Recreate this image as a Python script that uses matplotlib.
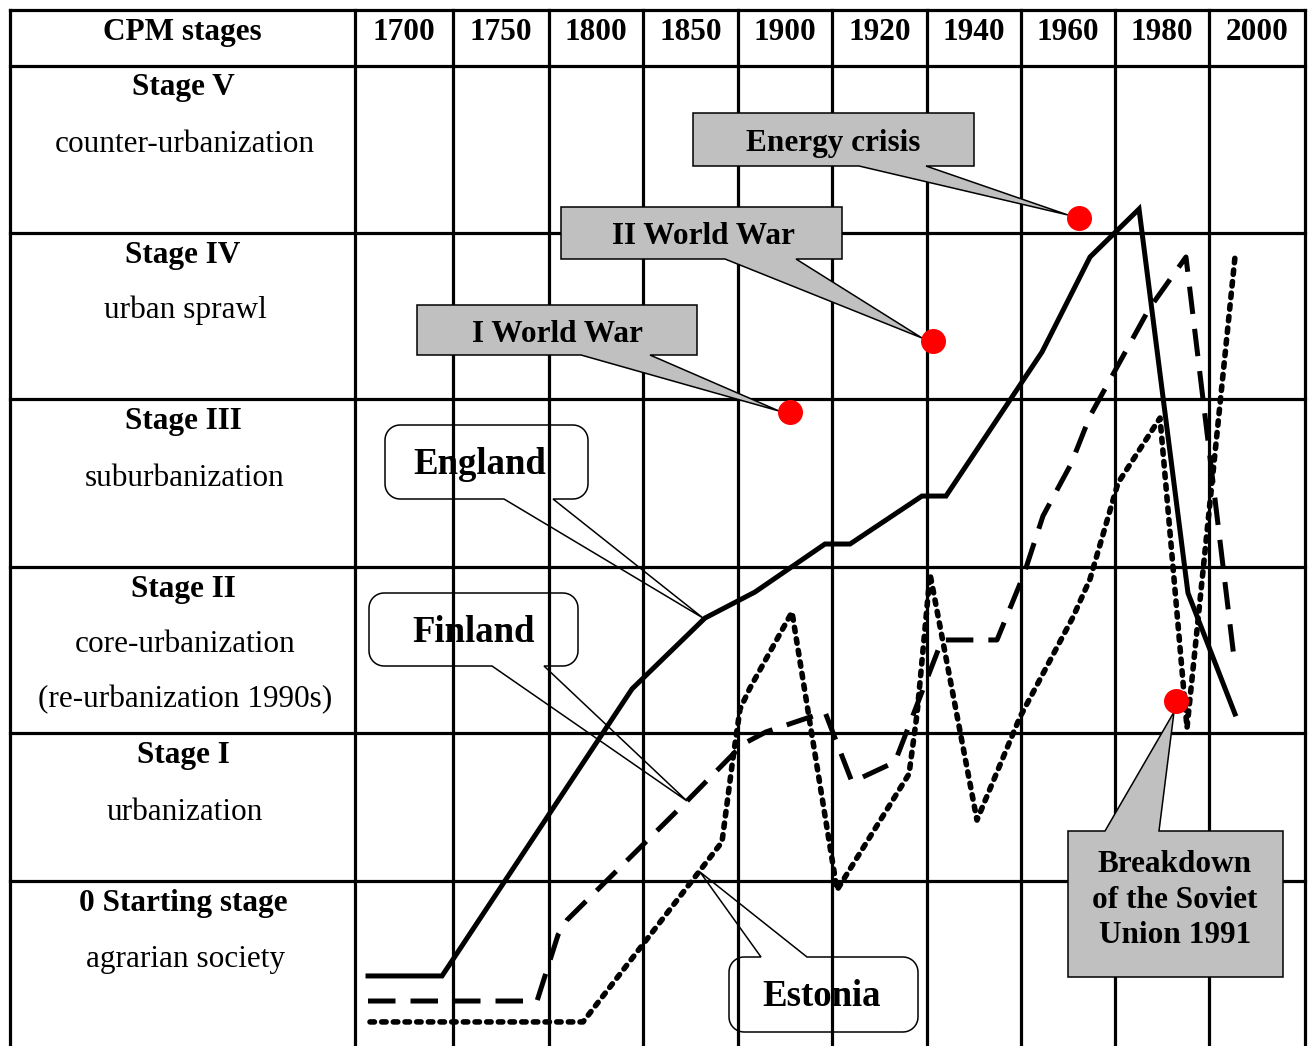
import numpy as np
import matplotlib.pyplot as plt
from matplotlib.patches import Polygon

plt.rcParams['font.family'] = ['Liberation Serif', 'DejaVu Serif']

# column / row labels
years = ['1700', '1750', '1800', '1850', '1900', '1920', '1940', '1960', '1980', '2000']
stage_titles = ['Stage V', 'Stage IV', 'Stage III', 'Stage II', 'Stage I', '0 Starting stage']
stage_notes = [['counter-urbanization'], ['urban sprawl'], ['suburbanization'],
               ['core-urbanization', '(re-urbanization 1990s)'], ['urbanization'],
               ['agrarian society']]

# series: x in year-column units (0 = left edge of 1700), y in stage units
england_x = [0.137, 0.916, 2.916, 3.684, 4.211, 4.947, 5.211, 5.968, 6.221, 7.232, 7.737, 8.253, 8.768, 9.263]
england_y = [0.422, 0.422, 2.151, 2.578, 2.735, 3.024, 3.024, 3.313, 3.313, 4.181, 4.753, 5.042, 2.729, 2.0]

finland_x = [0.137, 1.916, 2.137, 2.232, 3.495, 4.084, 4.326, 4.947, 5.232, 5.684, 6.179, 6.758, 7.042,
             7.242, 7.537, 7.737, 8.358, 8.747, 9.263]
finland_y = [0.271, 0.271, 0.669, 0.759, 1.476, 1.819, 1.892, 2.012, 1.590, 1.711, 2.446, 2.446, 2.843,
             3.193, 3.506, 3.795, 4.440, 4.753, 2.289]

estonia_x = [0.158, 2.4, 3.863, 3.979, 4.053, 4.158, 4.6, 5.074, 5.832, 5.916, 5.989, 6.053, 6.547,
             7.0, 7.558, 7.737, 8.032, 8.474, 8.758, 9.263]
estonia_y = [0.145, 0.145, 1.229, 1.735, 2.030, 2.157, 2.614, 0.940, 1.639, 2.0, 2.446, 2.843, 1.361,
             1.982, 2.584, 2.813, 3.392, 3.783, 1.916, 4.753]

# events (red dots)
event_labels = ['I World War', 'II World War', 'Energy crisis', 'Breakdown\nof the Soviet\nUnion 1991']
event_x = [4.579, 6.084, 7.621, 8.642]
event_y = [3.819, 4.247, 4.988, 2.078]

# layout (pixels of the picture)
X0, XW = 355, 95.0
Y0, YH = 1046, 166.0
DY = 3  # text sits a little lower than matplotlib centres it


def gx(px):
    return (px - X0) / XW


def gy(py):
    return (Y0 - py) / YH


col_edges = [10, 355, 453, 549, 643, 738, 832, 927, 1021, 1115, 1209, 1305]
row_edges = [10, 66, 233, 399, 567, 733, 881]
title_rows = [85, 253, 419, 587, 753, 901]
note_rows = [[141], [307], [475], [641, 697], [809], [957]]


def callout(x0, y0, x1, y1, b0, b1, tip, side, r):
    def arc(cx, cy, a0, a1):
        if r == 0:
            return [(cx, cy)]
        t = np.radians(np.linspace(a0, a1, 10))
        return list(zip(cx + r * np.cos(t), cy + r * np.sin(t)))
    pts = arc(x0 + r, y0 + r, 180, 270)
    if side == 'top':
        pts += [(b0, y0), tip, (b1, y0)]
    pts += arc(x1 - r, y0 + r, 270, 360)
    pts += arc(x1 - r, y1 - r, 0, 90)
    if side == 'bottom':
        pts += [(b1, y1), tip, (b0, y1)]
    pts += arc(x0 + r, y1 - r, 90, 180)
    return [(gx(a), gy(b)) for a, b in pts]


def main():
    fig = plt.figure(figsize=(13.11, 10.46), dpi=100)
    ax = fig.add_axes([0, 0, 1, 1])
    ax.set_xlim(gx(0), gx(1311))
    ax.set_ylim(gy(1046), gy(0))
    ax.axis('off')

    # table grid
    for c in col_edges:
        ax.plot([gx(c), gx(c)], [gy(row_edges[0]), gy(1046)], color='k', lw=2.3,
                solid_capstyle='projecting', zorder=1)
    for r in row_edges:
        ax.plot([gx(col_edges[0]), gx(col_edges[-1])], [gy(r), gy(r)], color='k', lw=2.3,
                solid_capstyle='projecting', zorder=1)

    # header
    ax.text(gx(182), gy(29 + DY), 'CPM stages', ha='center', va='center', fontsize=22.5, fontweight='bold')
    for i, yr in enumerate(years):
        ax.text(gx((col_edges[i + 1] + col_edges[i + 2]) / 2), gy(29 + DY), yr,
                ha='center', va='center', fontsize=22.5, fontweight='bold')

    # stage labels
    for title, ty, notes, ny in zip(stage_titles, title_rows, stage_notes, note_rows):
        ax.text(gx(183), gy(ty + DY), title, ha='center', va='center', fontsize=22.5, fontweight='bold')
        for n, y in zip(notes, ny):
            ax.text(gx(185), gy(y + DY), n, ha='center', va='center', fontsize=22.5)

    # country callouts (rounded, open)
    country = [('England', (385, 425, 588, 499), (504, 553), (703, 618), 'bottom', (480, 461)),
               ('Finland', (369, 593, 578, 666), (492, 544), (687, 801), 'bottom', (474, 629)),
               ('Estonia', (729, 957, 918, 1032), (761, 807), (700, 872), 'top', (822, 993))]
    for name, box, base, tip, side, tpos in country:
        pts = callout(box[0], box[1], box[2], box[3], base[0], base[1], tip, side, 15)
        ax.add_patch(Polygon(pts, closed=True, fc='none', ec='k', lw=1.1, zorder=2))
        ax.text(gx(tpos[0]), gy(tpos[1] + DY), name, ha='center', va='center', fontsize=26.5,
                fontweight='bold', zorder=6)

    # event callouts (grey boxes)
    events = [((417, 305, 697, 355), (581, 650), (779, 411), 'bottom', (557, 331)),
              ((561, 207, 842, 259), (725, 796), (922, 338), 'bottom', (703, 234)),
              ((693, 113, 974, 166), (859, 926), (1068, 215), 'bottom', (833, 140)),
              ((1068, 831, 1283, 977), (1105, 1159), (1174, 712), 'top', (1175, 897))]
    for lab, (box, base, tip, side, tpos) in zip(event_labels, events):
        pts = callout(box[0], box[1], box[2], box[3], base[0], base[1], tip, side, 0)
        ax.add_patch(Polygon(pts, closed=True, fc='#c0c0c0', ec='k', lw=1.1, zorder=3))
        ax.text(gx(tpos[0]), gy(tpos[1] + DY), lab, ha='center', va='center', fontsize=22.5,
                fontweight='bold', linespacing=1.3, zorder=6)

    # series
    ax.plot(england_x, england_y, color='k', lw=3.6, solid_joinstyle='miter', zorder=4)
    ax.plot(finland_x, finland_y, color='k', lw=3.6, linestyle=(0, (5.5, 3.0)), zorder=4)
    ax.plot(estonia_x, estonia_y, color='k', lw=4.0, linestyle=(0, (0.8, 1.3)),
            dash_capstyle='round', zorder=4)

    ax.plot(event_x, event_y, 'o', color='#ff0000', ms=18, mec='none', zorder=5)

    plt.savefig('out.png', dpi=100)


if __name__ == '__main__':
    main()
